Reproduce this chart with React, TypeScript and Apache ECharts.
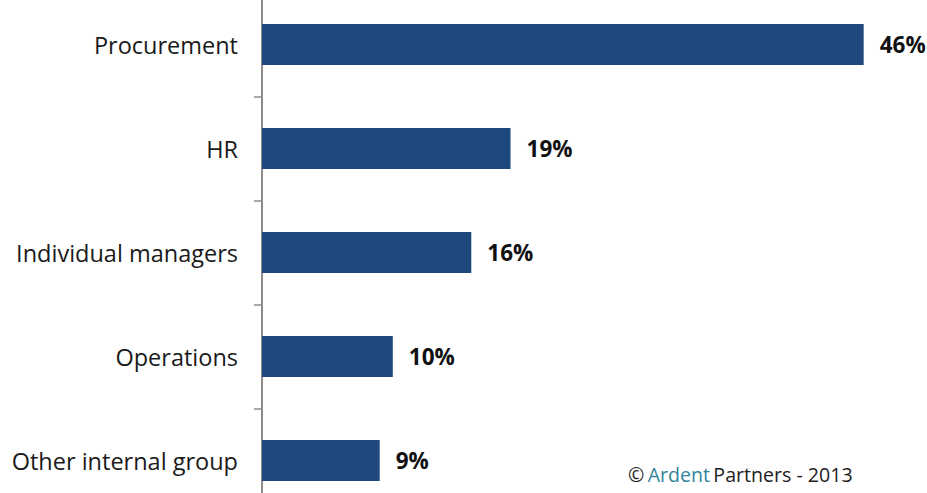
import React, { useEffect, useRef } from "react";
import * as echarts from "echarts";

const categories = ["Procurement", "HR", "Individual managers", "Operations", "Other internal group"];
const values = [46, 19, 16, 10, 9];

export default function App() {
  const ref = useRef<HTMLDivElement>(null);
  useEffect(() => {
    const chart = echarts.init(ref.current!, null, { renderer: "svg" });
    chart.setOption({
      animation: false,
      grid: { left: 262, top: 0.5, width: 654, height: 520, containLabel: false },
      xAxis: { type: "value", min: 0, max: 50, show: false },
      yAxis: {
        type: "category",
        data: categories,
        inverse: true,
        axisLine: { show: true, lineStyle: { color: "#8c8c8c", width: 2 } },
        axisTick: { show: true, length: 8, lineStyle: { color: "#8c8c8c", width: 1.5 } },
        axisLabel: { fontFamily: "Open Sans", fontSize: 23.5, color: "#1a1a1a", margin: 24 },
      },
      series: [
        {
          type: "bar",
          data: values,
          barWidth: 41,
          itemStyle: { color: "#1f497d" },
          label: {
            show: true,
            position: "right",
            distance: 16,
            formatter: "{c}%",
            fontFamily: "Open Sans",
            fontWeight: "bold",
            fontSize: 22.5,
            color: "#111",
          },
        },
      ],
      graphic: [
        {
          type: "text",
          left: 628,
          top: 472,
          style: {
            text: "{a|©} {b|Ardent} {a|Partners - 2013}",
            rich: {
              a: { fontFamily: "Open Sans", fontSize: 19.6, fill: "#222" },
              b: { fontFamily: "Open Sans", fontSize: 19.6, fill: "#31849b" },
            },
          },
        },
      ],
    });
    return () => chart.dispose();
  }, []);
  return (
    <div style={{ position: "absolute", left: 0, top: 0, width: 927, height: 493, overflow: "hidden", background: "#fff" }}>
      <div ref={ref} style={{ width: 927, height: 521, position: "absolute", left: 0, top: -8 }} />
    </div>
  );
}
